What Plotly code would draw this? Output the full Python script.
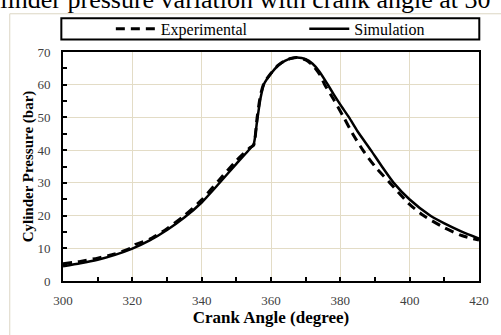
import plotly.graph_objects as go

# Simulation data (crank angle in degrees, pressure in bar)
sim_angle = [300, 305, 310, 315, 320, 325, 330, 335, 340, 345, 350, 354, 355, 356, 357, 358, 360,
             362, 364, 366, 367.5, 370, 372, 374, 376.4, 378, 380, 382.5, 385, 388.8, 392, 395.4,
             400, 405.9, 410, 415, 420]
sim_pressure = [4.5, 5.4, 6.5, 8.0, 9.9, 12.4, 15.6, 19.4, 24.0, 29.8, 35.8, 40.5, 41.8, 49.0, 56.0, 60.2, 63.4,
                65.8, 67.3, 68.1, 68.3, 67.8, 66.4, 64.0, 60.0, 57.2, 53.9, 50.0, 45.7, 40.0, 35.0, 30.0,
                24.9, 20.0, 17.6, 15.1, 13.0]

# Experimental data
exp_angle = [300, 305, 310, 315, 320, 321, 325, 330, 335, 340, 345, 350, 354, 355, 356, 357, 358, 360,
             362, 364, 366, 367.5, 370, 372, 374, 375.5, 378, 381, 383.5, 386.5, 390, 394.3,
             400, 404, 410, 415, 420]
exp_pressure = [5.3, 6.0, 7.0, 8.3, 10.3, 11.2, 12.8, 16.0, 20.0, 24.8, 30.8, 36.8, 40.8, 41.5, 50.0, 57.0, 60.5, 63.5,
                65.9, 67.4, 68.1, 68.3, 67.6, 66.0, 63.2, 60.0, 55.6, 50.0, 45.1, 40.0, 35.0, 30.0,
                23.4, 20.0, 16.3, 13.9, 12.5]

x_ticks = [300, 320, 340, 360, 380, 400, 420]
y_ticks = [0, 10, 20, 30, 40, 50, 60, 70]

FONT = "Liberation Serif, Times New Roman, serif"

fig = go.Figure()
fig.add_trace(go.Scatter(x=exp_angle, y=exp_pressure, mode="lines", name="Experimental", legend="legend",
                         line=dict(color="black", width=3, dash="9px,6px", shape="spline", smoothing=0.6)))
fig.add_trace(go.Scatter(x=sim_angle, y=sim_pressure, mode="lines", name="Simulation", legend="legend2",
                         line=dict(color="black", width=2.5, shape="spline", smoothing=0.6)))

grid_color = "#e3dcc6"
fig.update_xaxes(range=[300, 420], tickvals=x_ticks, showgrid=True, gridcolor=grid_color, gridwidth=1,
                 showline=True, linecolor="black", linewidth=2, mirror=True,
                 ticks="inside", ticklen=4, tickwidth=2, tickcolor="black",
                 minor=dict(dtick=10, ticks="inside", ticklen=4, tickwidth=2, tickcolor="black", showgrid=False),
                 tickfont=dict(family=FONT, size=13, color="#404040"), ticklabelstandoff=6,
                 zeroline=False,
                 title=dict(text="<b>Crank Angle (degree)</b>", font=dict(family=FONT, size=17, color="black"), standoff=4))
fig.update_yaxes(range=[0, 70], tickvals=y_ticks, showgrid=True, gridcolor=grid_color, gridwidth=1,
                 showline=True, linecolor="black", linewidth=2, mirror=True,
                 ticks="inside", ticklen=4, tickwidth=2, tickcolor="black",
                 minor=dict(dtick=5, ticks="inside", ticklen=4, tickwidth=2, tickcolor="black", showgrid=False),
                 tickfont=dict(family=FONT, size=13, color="#404040"), ticklabelstandoff=8,
                 zeroline=False,
                 title=dict(text="<b>Cylinder Pressure (bar)</b>", font=dict(family=FONT, size=15, color="black"), standoff=0))

legend_common = dict(orientation="h", xanchor="left", y=1.1014, yanchor="middle",
                     font=dict(family=FONT, size=16, color="black"),
                     bgcolor="rgba(0,0,0,0)", borderwidth=0, itemwidth=40)

# plot area: x 62.7..482.7, y 50..286.7 px
fig.update_layout(
    width=501, height=335,
    margin=dict(l=63, r=18, t=50, b=48),
    paper_bgcolor="white", plot_bgcolor="white",
    font=dict(family=FONT, color="black"),
    showlegend=True,
    legend=dict(x=0.115, **legend_common),
    legend2=dict(x=0.58, **legend_common),
    shapes=[
        dict(type="rect", xref="paper", yref="paper", x0=-0.128, x1=1.3, y0=-0.5, y1=1.1669,
             line=dict(color="#dcd6c4", width=1), fillcolor="rgba(0,0,0,0)", layer="below"),
        dict(type="rect", xref="paper", yref="paper", x0=-0.004, x1=1.0007, y0=1.0549, y1=1.1479,
             line=dict(color="black", width=2), fillcolor="rgba(0,0,0,0)"),
    ],
    annotations=[
        dict(text="Cylinder pressure variation with crank angle at 30", xref="paper", yref="paper",
             x=-0.228, xanchor="left", y=1.1584, yanchor="bottom", showarrow=False,
             font=dict(family=FONT, size=26, color="black")),
    ],
)

fig.write_html("out.html")
